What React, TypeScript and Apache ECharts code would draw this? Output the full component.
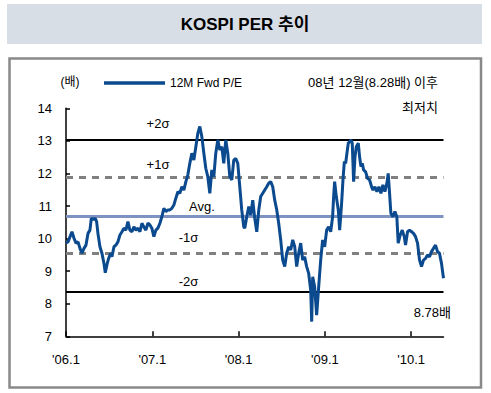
import React, { useEffect, useRef } from "react";
import * as echarts from "echarts";

// months since Jan 2006 (fractional) and 12M forward P/E
const months = [
  0, 0.28, 0.56, 0.83, 1.11, 1.39, 1.67, 1.94, 2.22, 2.5, 2.78, 3.06, 3.33, 3.52, 3.8, 4.07, 4.26, 4.44, 4.72, 5.0,
  5.28, 5.46, 5.74, 5.93, 6.2, 6.39, 6.67, 6.94, 7.22, 7.5, 7.78, 8.06, 8.33, 8.61, 8.89, 9.17, 9.44, 9.72, 10.0, 10.28,
  10.56, 10.83, 11.11, 11.39, 11.67, 11.94, 12.22, 12.5, 12.78, 13.06, 13.33, 13.61, 13.89, 14.17, 14.44, 14.72, 15.0, 15.28, 15.56, 15.83,
  16.11, 16.39, 16.67, 16.94, 17.22, 17.5, 17.78, 18.06, 18.33, 18.61, 18.89, 19.17, 19.44, 19.72, 20.0, 20.28, 20.56, 20.83, 21.11, 21.39,
  21.67, 21.94, 22.22, 22.5, 22.78, 23.06, 23.33, 23.61, 23.89, 24.17, 24.44, 24.72, 24.86, 25.14, 25.42, 25.69, 25.97, 26.25, 26.53, 26.81,
  27.08, 27.36, 27.64, 27.92, 28.19, 28.47, 28.75, 29.03, 29.31, 29.58, 29.86, 30.14, 30.42, 30.69, 30.97, 31.25, 31.53, 31.81, 32.08, 32.36,
  32.64, 32.92, 33.19, 33.47, 33.75, 34.03, 34.17, 34.31, 34.58, 34.86, 35.14, 35.42, 35.69, 35.97, 36.25, 36.53, 36.81, 37.08, 37.22, 37.36,
  37.59, 37.87, 38.06, 38.33, 38.52, 38.71, 38.89, 39.07, 39.26, 39.44, 39.63, 39.81, 40.0, 40.19, 40.37, 40.65, 40.83, 41.02, 41.2, 41.39,
  41.67, 41.94, 42.22, 42.5, 42.69, 42.96, 43.24, 43.52, 43.8, 44.07, 44.35, 44.63, 44.81, 45.0, 45.18, 45.46, 45.74, 46.01, 46.2, 46.48,
  46.76, 47.04, 47.22, 47.5, 47.78, 48.06, 48.33, 48.61, 48.89, 49.17, 49.44, 49.72, 50.0, 50.28, 50.56, 50.83, 51.11, 51.39, 51.67, 51.94,
  52.22, 52.5,
];
const per = [
  9.87, 9.9, 10.06, 10.21, 10.01, 9.86, 9.9, 9.7, 9.55, 9.7, 9.8, 10.16, 10.26, 10.62, 10.59, 10.62, 10.52, 10.16, 9.75, 9.55,
  9.24, 8.95, 9.24, 9.39, 9.55, 9.44, 9.75, 9.8, 9.9, 10.11, 10.21, 10.32, 10.26, 10.52, 10.26, 10.21, 10.36, 10.26, 10.32, 10.21,
  10.47, 10.36, 10.26, 10.47, 10.42, 10.32, 10.06, 10.26, 10.32, 10.47, 10.67, 10.93, 10.83, 10.88, 10.88, 10.93, 11.03, 11.24, 11.44, 11.39,
  11.59, 11.49, 11.75, 11.95, 12.31, 12.62, 12.41, 12.82, 13.23, 13.44, 13.13, 12.62, 12.16, 11.9, 11.39, 12.11, 11.9, 12.62, 13.03, 12.72,
  12.82, 12.31, 13.03, 12.62, 11.9, 11.8, 12.41, 12.46, 12.31, 11.59, 10.88, 10.36, 10.32, 10.67, 10.98, 10.72, 11.18, 10.62, 10.21, 10.88,
  11.29, 11.39, 11.49, 11.59, 11.7, 11.75, 11.59, 11.18, 10.88, 10.47, 9.96, 9.34, 9.14, 9.55, 9.75, 9.65, 9.96, 9.75, 9.14, 9.55,
  9.86, 9.34, 9.44, 9.14, 8.93, 8.42, 7.45, 8.83, 8.52, 7.65, 8.52, 9.34, 9.96, 9.75, 10.26, 10.36, 10.21, 10.67, 11.29, 11.75,
  11.29, 10.88, 10.26, 11.08, 11.8, 12.36, 12.31, 12.62, 12.93, 12.97, 13.03, 12.93, 11.75, 12.51, 12.82, 12.93, 12.51, 12.21, 12.31, 12.11,
  12.05, 11.85, 11.8, 11.59, 11.49, 11.59, 11.44, 11.59, 11.39, 11.65, 11.44, 11.7, 12.0, 11.39, 10.78, 10.67, 10.83, 10.67, 9.86, 10.11,
  10.26, 10.06, 9.8, 10.21, 10.26, 10.21, 10.16, 10.06, 9.86, 9.34, 9.14, 9.34, 9.39, 9.5, 9.44, 9.6, 9.7, 9.8, 9.6, 9.55,
  9.24, 8.78,
];
// reference levels: +2σ, +1σ, Avg., -1σ, -2σ
const bandNames = ["+2σ", "+1σ", "Avg.", "-1σ", "-2σ"];
const bandValues = [13.04, 11.87, 10.7, 9.55, 8.36];
const xTickMonths = [0, 12, 24, 36, 48];
const xTickLabels = ["'06.1", "'07.1", "'08.1", "'09.1", "'10.1"];

const FONT = '"Liberation Sans", Arial, "Noto Sans CJK KR", sans-serif';
const BLUE = "#0b4a8e";

export default function App() {
  const ref = useRef<HTMLDivElement>(null);
  useEffect(() => {
    if (!ref.current) return;
    const chart = echarts.init(ref.current, undefined, { renderer: "svg" });
    const bandStyles = [
      { color: "#000", width: 2, type: "solid" },
      { color: "#808080", width: 3, type: [7, 6] },
      { color: "#7f93c3", width: 3, type: "solid" },
      { color: "#808080", width: 3, type: [7, 6] },
      { color: "#000", width: 2, type: "solid" },
    ];
    const txt = (text: string, x: number, y: number, align: string, size = 13, extra: any = {}) => ({
      type: "text",
      x,
      y,
      style: { text, fontSize: size, fontFamily: FONT, fill: "#000", align, verticalAlign: "middle", ...extra },
      z: 100,
    });
    chart.setOption({
      animation: false,
      backgroundColor: "#fff",
      grid: { left: 66, top: 108.3, right: 47.5, bottom: 56.7 },
      legend: {
        left: 99,
        top: 72,
        itemWidth: 61,
        itemHeight: 3.5,
        icon: "rect",
        itemGap: 5,
        textStyle: { fontSize: 12, fontFamily: FONT, color: "#000" },
        data: ["12M Fwd P/E"],
      },
      xAxis: {
        type: "value",
        min: 0,
        max: 52.5,
        interval: 12,
        axisLine: { show: true, lineStyle: { color: "#000", width: 1.5 } },
        axisTick: { show: true, inside: true, length: 5, customValues: xTickMonths, lineStyle: { color: "#000", width: 1.5 } },
        axisLabel: {
          customValues: xTickMonths,
          formatter: (v: number) => xTickLabels[xTickMonths.indexOf(Math.round(v))] ?? "",
          fontSize: 13,
          fontFamily: FONT,
          color: "#000",
          margin: 17,
        },
        splitLine: { show: false },
      },
      yAxis: {
        type: "value",
        min: 7,
        max: 14,
        interval: 1,
        axisLine: { show: true, lineStyle: { color: "#000", width: 1.5 } },
        axisTick: { show: true, inside: true, length: 4, lineStyle: { color: "#000", width: 1.5 } },
        axisLabel: { fontSize: 13, fontFamily: FONT, color: "#000", margin: 14 },
        splitLine: { show: false },
      },
      series: [
        {
          name: "12M Fwd P/E",
          type: "line",
          data: months.map((m, i) => [m, per[i]]),
          showSymbol: false,
          symbol: "none",
          lineStyle: { color: BLUE, width: 3 },
          itemStyle: { color: BLUE },
          z: 3,
          markLine: {
            silent: true,
            symbol: ["none", "none"],
            label: { show: false },
            z: 2,
            data: bandValues.map((v, i) => ({ yAxis: v, name: bandNames[i], lineStyle: bandStyles[i] })),
          },
        },
      ],
      graphic: [
        { type: "rect", shape: { x: 7, y: 4, width: 475, height: 40 }, style: { fill: "#d7dee6" }, z: 0 },
        txt("KOSPI PER 추이", 245, 24, "center", 17, { fontWeight: "bold" }),
        {
          type: "rect",
          shape: { x: 9.5, y: 58.5, width: 471.5, height: 329 },
          style: { fill: "none", stroke: "#898989", lineWidth: 2.5 },
          z: 100,
        },
        txt("(배)", 70, 82, "center", 12),
        txt("08년 12월(8.28배) 이후", 438, 82, "right", 13),
        txt("최저치", 438, 107, "right", 13),
        txt(bandNames[0], 158, 123, "center", 13),
        txt(bandNames[1], 158, 164, "center", 13),
        txt(bandNames[2], 202, 206.5, "center", 13),
        txt(bandNames[3], 188.5, 237.5, "center", 13),
        txt(bandNames[4], 188.5, 281, "center", 13),
        txt(per[per.length - 1].toFixed(2) + "배", 451, 312, "right", 13),
      ],
    });
    return () => chart.dispose();
  }, []);
  return <div ref={ref} style={{ position: "absolute", left: 0, top: 0, width: 491, height: 393 }} />;
}
